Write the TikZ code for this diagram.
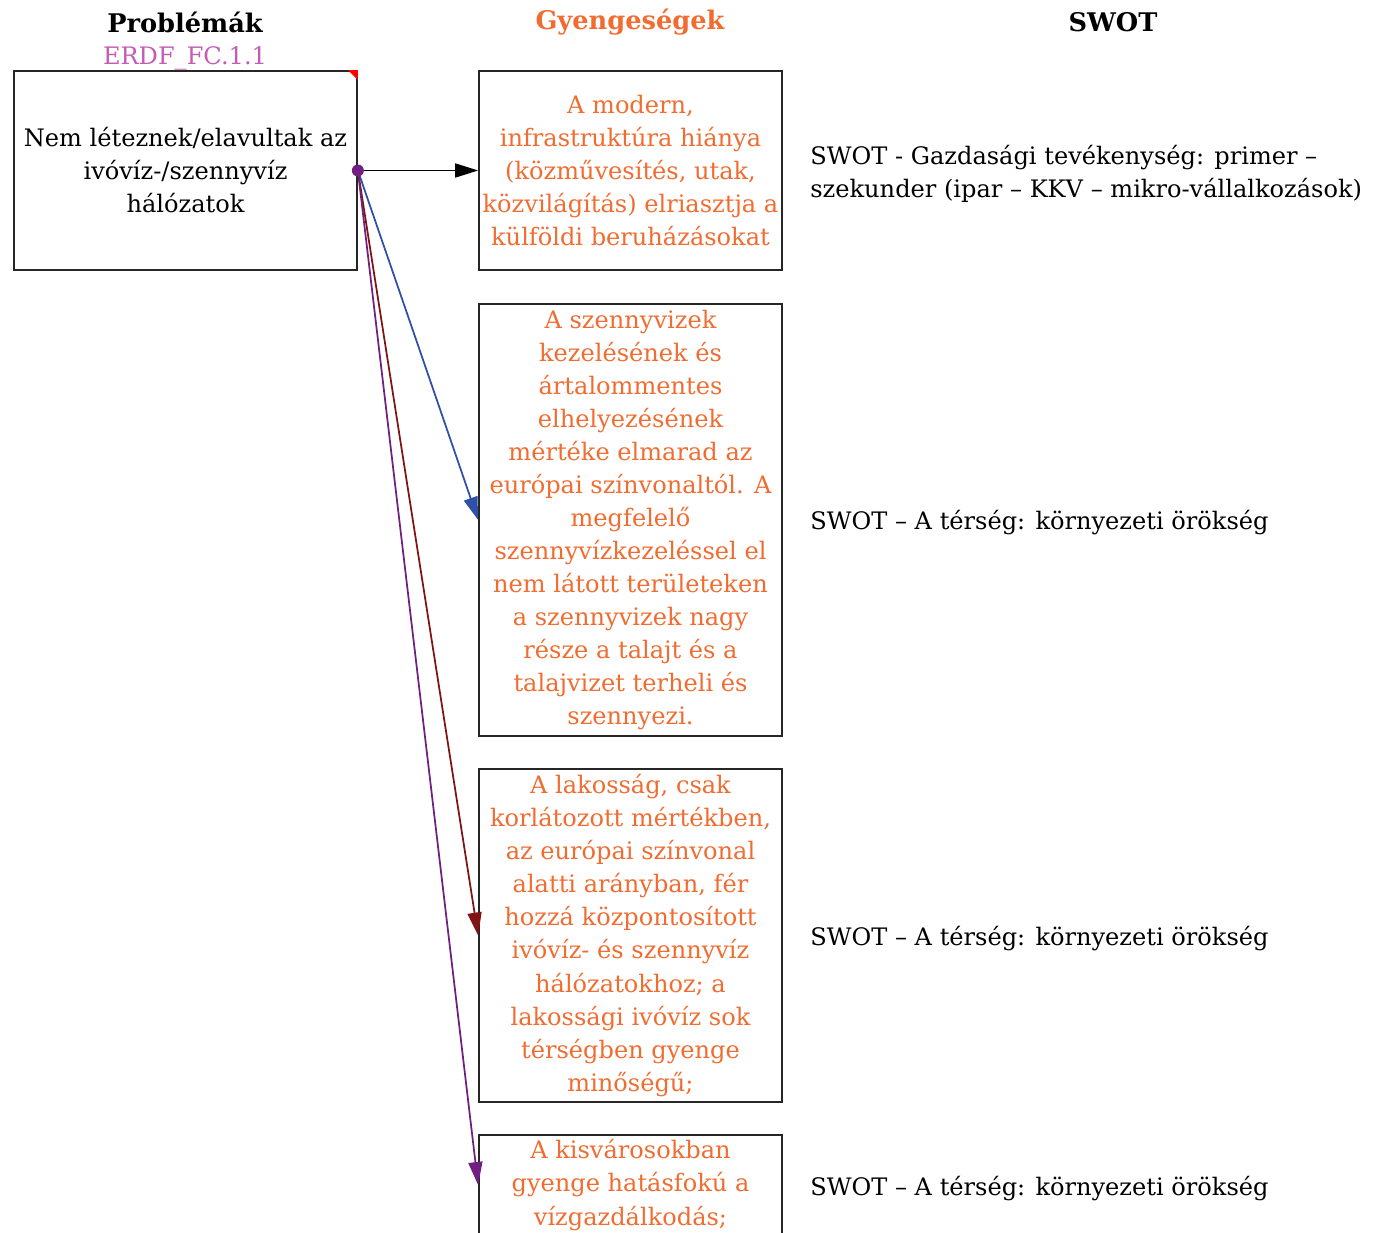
\documentclass[tikz,border=0pt]{standalone}
\usepackage{fontspec}
\setmainfont{DejaVu Serif}
\usetikzlibrary{arrows.meta}
\definecolor{weakorange}{RGB}{240,108,48}
\definecolor{codepink}{RGB}{196,92,180}
\definecolor{linkblue}{RGB}{48,80,168}
\definecolor{linkred}{RGB}{128,20,20}
\definecolor{linkpurple}{RGB}{112,32,128}
\newcommand{\boxfont}{\fontsize{13.7}{18.8}\selectfont}
\newcommand{\headfont}{\fontsize{14.6}{18.8}\selectfont\bfseries}
\tikzset{
    box/.style={draw=black!85, line width=1pt, rectangle, minimum width=6.06cm, align=center, font=\boxfont, inner sep=0pt},
    weak/.style={box, text=weakorange},
    head/.style={font=\headfont},
    swot/.style={anchor=west, align=left, font=\boxfont, inner sep=0pt},
    link/.style={line width=1pt, -{Triangle[length=0.46cm, width=0.28cm]}}
}
\begin{document}
\begin{tikzpicture}
\useasboundingbox (0,0) rectangle (27.6,-24.66);
% column heads
\node[head] (hprob) at (3.70,-0.44) {Problémák};
\node[font=\boxfont, text=codepink] (code) at (3.70,-1.17) {ERDF\_FC.1.1};
\node[head, text=weakorange] (hweak) at (12.60,-0.44) {Gyengeségek};
\node[head] (hswot) at (22.26,-0.44) {SWOT};
% problem
\node[box, minimum width=6.86cm, minimum height=3.98cm] (prob) at (3.71,-3.41) {Nem léteznek/elavultak az\\ ivóvíz-/szennyvíz\\ hálózatok};
\fill[red] (prob.north east) -- ++(-0.2,0) -- ++(0.2,-0.2) -- cycle;
% weaknesses
\node[weak, minimum height=3.98cm] (w1) at (12.61,-3.41) {A modern,\\ infrastruktúra hiánya\\ (közművesítés, utak,\\ közvilágítás) elriasztja a\\ külföldi beruházásokat};
\node[weak, minimum height=8.64cm] (w2) at (12.61,-10.40) {A szennyvizek\\ kezelésének és\\ ártalommentes\\ elhelyezésének\\ mértéke elmarad az\\ európai színvonaltól. A\\ megfelelő\\ szennyvízkezeléssel el\\ nem látott területeken\\ a szennyvizek nagy\\ része a talajt és a\\ talajvizet terheli és\\ szennyezi.};
\node[weak, minimum height=6.66cm] (w3) at (12.61,-18.71) {A lakosság, csak\\ korlátozott mértékben,\\ az európai színvonal\\ alatti arányban, fér\\ hozzá központosított\\ ivóvíz- és szennyvíz\\ hálózatokhoz; a\\ lakossági ivóvíz sok\\ térségben gyenge\\ minőségű;};
\node[weak, minimum height=2.00cm] (w4) at (12.61,-23.70) {A kisvárosokban\\ gyenge hatásfokú a\\ vízgazdálkodás;};
% swot
\node[swot] (s1) at (16.20,-3.47) {SWOT - Gazdasági tevékenység: primer –\\ szekunder (ipar – KKV – mikro-vállalkozások)};
\node[swot] (s2) at (16.20,-10.45) {SWOT – A térség: környezeti örökség};
\node[swot] (s3) at (16.20,-18.77) {SWOT – A térség: környezeti örökség};
\node[swot] (s4) at (16.20,-23.77) {SWOT – A térség: környezeti örökség};
% links
\draw[link, black] (prob.east) -- (w1.west);
\draw[link, linkblue] (prob.east) -- (w2.west);
\draw[link, linkred] (prob.east) -- (w3.west);
\draw[link, linkpurple] (prob.east) -- (w4.west);
\fill[linkpurple] (prob.east) circle (0.12);
\end{tikzpicture}
\end{document}
